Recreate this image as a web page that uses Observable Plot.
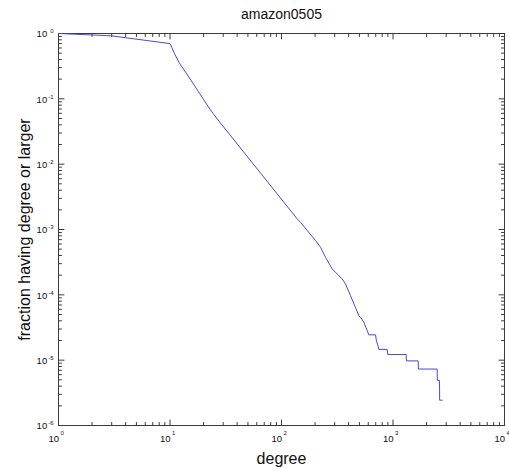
<!DOCTYPE html>
<html>
<head>
<meta charset="utf-8">
<script src="https://cdn.jsdelivr.net/npm/d3@7"></script>
<script src="https://cdn.jsdelivr.net/npm/@observablehq/plot@0.6"></script>
<style>
  html, body { margin: 0; padding: 0; background: #fff; }
  #chart svg { display: block; font-family: "Liberation Sans", Arial, sans-serif; }
</style>
</head>
<body>
<div id="chart"></div>
<script>
// Complementary cumulative degree distribution
const degree = [1, 2, 3, 10, 11, 12, 16, 23, 28, 138, 148, 202, 224, 248, 285, 350, 375, 416, 461, 493, 511, 547, 587, 607, 697, 711, 731, 746, 888, 898, 1313, 1320, 1682, 1690, 2488, 2500, 2612, 2620, 2762];
const fraction = [1, 0.95, 0.92, 0.70, 0.489, 0.364, 0.175, 0.068, 0.0438, 0.00146, 0.00129, 6.77e-4, 5.35e-4, 3.76e-4, 2.49e-4, 1.75e-4, 1.47e-4, 9.7e-5, 6.4e-5, 4.8e-5, 4.54e-5, 3.81e-5, 2.84e-5, 2.44e-5, 2.44e-5, 1.95e-5, 1.71e-5, 1.46e-5, 1.46e-5, 1.22e-5, 1.22e-5, 9.75e-6, 9.75e-6, 7.31e-6, 7.31e-6, 4.88e-6, 4.88e-6, 2.44e-6, 2.44e-6];

const xTicks = [1, 10, 100, 1000, 10000];
const xTickExp = ["0", "1", "2", "3", "4"];
const yTicks = [1, 0.1, 0.01, 0.001, 1e-4, 1e-5, 1e-6];
const yTickExp = ["0", "-1", "-2", "-3", "-4", "-5", "-6"];

const titleText = "amazon0505";
const xLabel = "degree";
const yLabel = "fraction having degree or larger";

const data = degree.map((d, i) => ({degree: d, fraction: fraction[i]}));
const xMinor = d3.scaleLog().domain([1, 1e4]).ticks().filter(t => !xTicks.some(m => Math.abs(m - t) < 1e-9 * m));
const yMinor = d3.scaleLog().domain([1e-6, 1]).ticks().filter(t => !yTicks.some(m => Math.abs(m - t) < 1e-6 * m));

const lineShape = {draw(context, l) { context.moveTo(0, 0); context.lineTo(0, -l); }};
const axisColor = "#3a3a3a";
const tickOpts = (extra) => Object.assign({anchor: "start", shape: lineShape, stroke: axisColor, strokeWidth: 1}, extra);

const xTickIdx = xTicks.map((d, i) => i);
const yTickIdx = yTicks.map((d, i) => i);

const chart = Plot.plot({
  width: 509,
  height: 469,
  marginLeft: 58,
  marginRight: 5,
  marginTop: 33,
  marginBottom: 44,
  style: {fontFamily: "Liberation Sans, Arial, sans-serif", background: "#fff"},
  x: {type: "log", domain: [1, 1e4], axis: null},
  y: {type: "log", domain: [1e-6, 1], axis: null},
  marks: [
    Plot.frame({stroke: axisColor}),
    // major ticks, inward on all four sides
    Plot.vector(xTicks, tickOpts({x: d => d, frameAnchor: "bottom", length: 5.5, rotate: 0})),
    Plot.vector(xTicks, tickOpts({x: d => d, frameAnchor: "top", length: 5.5, rotate: 180})),
    Plot.vector(yTicks, tickOpts({y: d => d, frameAnchor: "left", length: 5.5, rotate: 90})),
    Plot.vector(yTicks, tickOpts({y: d => d, frameAnchor: "right", length: 5.5, rotate: -90})),
    // minor ticks
    Plot.vector(xMinor, tickOpts({x: d => d, frameAnchor: "bottom", length: 3, rotate: 0})),
    Plot.vector(xMinor, tickOpts({x: d => d, frameAnchor: "top", length: 3, rotate: 180})),
    Plot.vector(yMinor, tickOpts({y: d => d, frameAnchor: "left", length: 3, rotate: 90})),
    Plot.vector(yMinor, tickOpts({y: d => d, frameAnchor: "right", length: 3, rotate: -90})),
    // data
    Plot.line(data, {x: "degree", y: "fraction", stroke: "#4a4ad0", strokeWidth: 1}),
    // x tick labels: "10" + superscript
    Plot.text(xTickIdx, {x: i => xTicks[i], frameAnchor: "bottom", text: () => "10", textAnchor: "end", lineAnchor: "bottom", dx: 0.5, dy: 16.7, fontSize: 9.5, fill: "#111"}),
    Plot.text(xTickIdx, {x: i => xTicks[i], frameAnchor: "bottom", text: i => xTickExp[i], textAnchor: "start", lineAnchor: "bottom", dx: 2, dy: 9, fontSize: 6, fill: "#111"}),
    // y tick labels
    Plot.text(yTickIdx, {y: i => yTicks[i], frameAnchor: "left", text: () => "10", textAnchor: "end", lineAnchor: "bottom", dx: -11.3, dy: 3.7, fontSize: 9.5, fill: "#111"}),
    Plot.text(yTickIdx, {y: i => yTicks[i], frameAnchor: "left", text: i => yTickExp[i], textAnchor: "end", lineAnchor: "bottom", dx: -5, dy: -0.3, fontSize: 6, fill: "#111"}),
    // title and axis labels
    Plot.text([titleText], {frameAnchor: "top", text: d => d, textAnchor: "middle", lineAnchor: "bottom", dy: -15, fontSize: 14, fill: "#111"}),
    Plot.text([xLabel], {frameAnchor: "bottom", text: d => d, textAnchor: "middle", lineAnchor: "bottom", dy: 38, fontSize: 16, fill: "#111"}),
    Plot.text([yLabel], {frameAnchor: "left", text: d => d, textAnchor: "middle", lineAnchor: "bottom", rotate: -90, dx: -29, fontSize: 16, fill: "#111"})
  ]
});
document.getElementById("chart").appendChild(chart);
</script>
</body>
</html>
